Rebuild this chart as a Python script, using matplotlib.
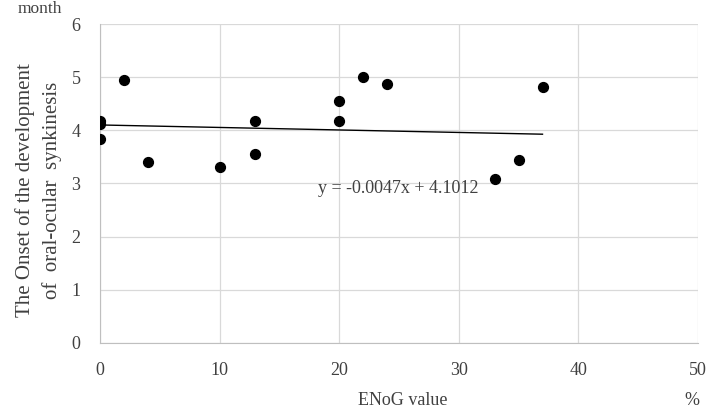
import numpy as np
import matplotlib.pyplot as plt

plt.rcParams['font.family'] = 'Liberation Serif'

# ENoG value (%) vs onset of oral-ocular synkinesis (month)
enog = [0, 0, 0, 2, 4, 10, 13, 13, 20, 20, 22, 24, 33, 35, 37]
onset = [4.17, 4.12, 3.84, 4.94, 3.41, 3.31, 4.18, 3.55, 4.56, 4.18, 5.01, 4.88, 3.08, 3.44, 4.81]

# linear trendline as reported on the chart
slope = -0.0047
intercept = 4.1012

fig = plt.figure(figsize=(7.11, 4.09), dpi=100)
ax = fig.add_axes([0.1406, 0.1614, 0.8411, 0.7799])

ax.scatter(enog, onset, s=50, color='black', zorder=3)
xs = np.array([min(enog), max(enog)])
ax.plot(xs, slope * xs + intercept, color='black', lw=1.0, zorder=2)

ax.set_xlim(0, 50)
ax.set_ylim(0, 6)
ax.set_xticks(range(0, 51, 10))
ax.set_yticks(range(0, 7))
ax.grid(True, color='#d9d9d9', lw=0.9)
ax.set_axisbelow(True)
for s in ['top', 'right']:
    ax.spines[s].set_visible(False)
for s in ['left', 'bottom']:
    ax.spines[s].set_color('#bfbfbf')
ax.tick_params(length=0, labelsize=13, colors='#404040')
ax.tick_params(axis='y', pad=14)
ax.tick_params(axis='x', pad=14)

ax.text(0.365, 0.484, 'y = -0.0047x + 4.1012', transform=ax.transAxes,
        fontsize=13, color='#404040', va='center')

fig.text(0.054, 0.535, 'The Onset of the development\nof  oral-ocular  synkinesis',
         rotation=90, ha='center', va='center', fontsize=15, color='#404040',
         linespacing=1.45)
fig.text(0.056, 0.998, 'month', ha='center', va='top', fontsize=12.5, color='#404040')
fig.text(0.566, 0.0, 'ENoG value', ha='center', va='bottom', fontsize=13, color='#404040')
fig.text(0.973, 0.0, '%', ha='center', va='bottom', fontsize=13, color='#404040')

plt.savefig('out.png', dpi=100)
